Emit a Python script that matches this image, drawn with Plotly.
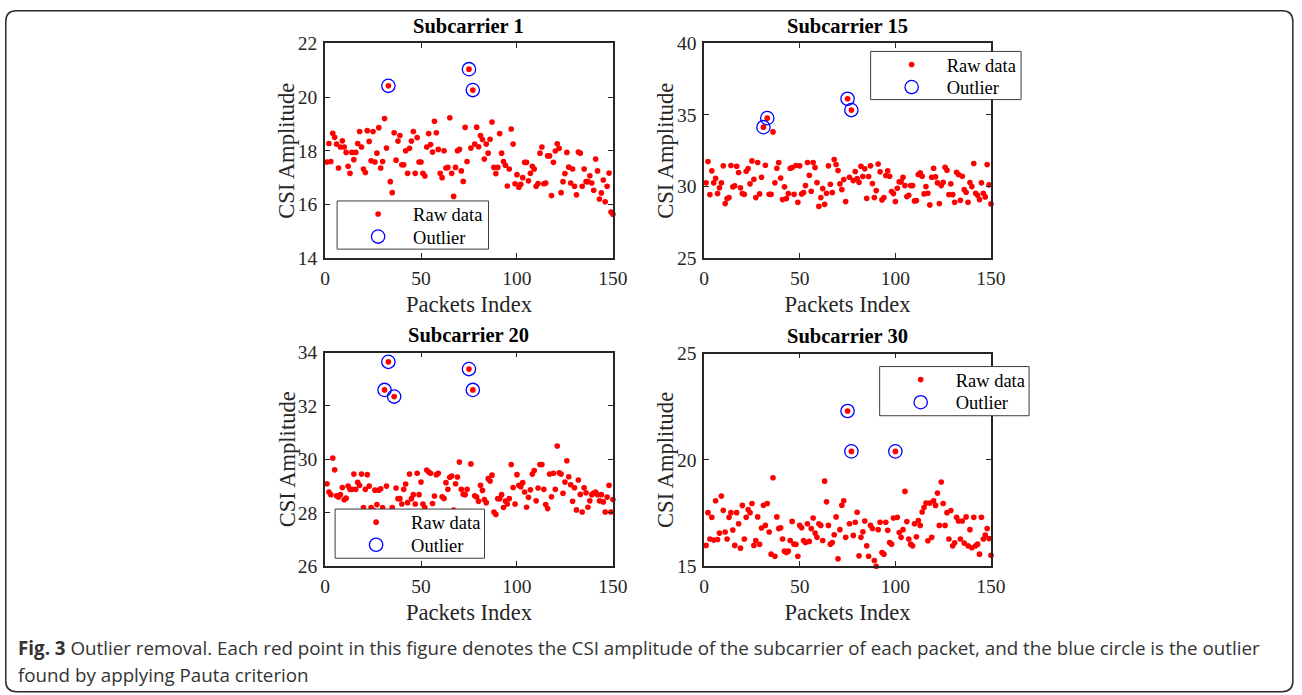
import plotly.graph_objects as go

# Packet index (1-based, 150 packets per subcarrier)
packets = list(range(1, 151))

# CSI amplitude per packet for each subcarrier
amp_sc1 = [
    17.58, 18.27, 17.60, 18.65, 18.50, 18.25, 17.36, 18.14, 18.37, 18.14,
    17.94, 17.42, 17.16, 17.94, 17.67, 17.94, 18.27, 18.72, 18.14, 17.32,
    17.19, 18.75, 18.35, 17.63, 18.72, 17.58, 17.91, 18.86, 17.36, 17.60,
    19.20, 18.10, 20.42, 16.85, 16.44, 18.67, 17.65, 18.36, 18.57, 17.48,
    17.48, 18.00, 17.16, 18.09, 18.36, 18.72, 17.16, 18.49, 17.58, 17.58,
    17.16, 17.06, 18.14, 18.64, 18.23, 17.95, 19.10, 18.67, 18.05, 17.16,
    17.00, 18.00, 17.36, 17.38, 19.23, 17.16, 16.30, 17.38, 18.00, 18.05,
    17.25, 16.86, 18.87, 17.60, 21.04, 18.10, 20.26, 18.25, 18.88, 18.15,
    18.57, 18.42, 17.69, 18.25, 17.91, 18.43, 19.07, 17.38, 17.15, 17.38,
    18.64, 17.91, 17.60, 17.46, 16.69, 17.32, 18.81, 18.25, 16.77, 17.11,
    16.64, 16.75, 17.00, 17.57, 17.57, 16.88, 17.16, 17.42, 17.32, 16.68,
    16.78, 17.91, 18.14, 16.77, 16.80, 17.81, 17.81, 16.33, 17.57, 17.99,
    18.26, 18.09, 16.44, 16.85, 17.15, 17.94, 17.39, 16.80, 17.32, 16.68,
    16.36, 17.95, 17.91, 16.68, 17.32, 16.85, 16.85, 17.07, 16.80, 16.53,
    17.69, 17.25, 16.20, 16.43, 16.91, 16.10, 16.68, 17.17, 15.72, 15.64,
]
amp_sc15 = [
    30.26, 31.75, 29.44, 31.10, 30.26, 30.58, 29.51, 29.91, 30.26, 31.45,
    28.81, 29.16, 29.23, 31.47, 29.98, 30.05, 31.42, 30.98, 29.91, 29.51,
    29.46, 31.07, 31.26, 30.19, 31.79, 30.51, 29.23, 31.68, 29.49, 30.65,
    34.15, 31.49, 34.78, 29.46, 29.46, 33.82, 30.26, 31.28, 31.68, 30.60,
    29.09, 29.98, 29.16, 29.51, 31.28, 31.33, 29.46, 31.47, 28.90, 31.45,
    29.49, 29.58, 30.07, 31.68, 30.79, 29.67, 31.68, 31.33, 30.28, 28.62,
    29.23, 29.86, 28.76, 29.53, 31.45, 30.16, 29.58, 31.89, 31.54, 31.12,
    30.19, 29.79, 30.49, 28.95, 36.13, 30.65, 35.34, 30.42, 31.05, 30.56,
    30.30, 31.42, 30.70, 31.24, 29.18, 30.70, 31.45, 30.21, 29.23, 29.72,
    31.58, 31.03, 29.07, 29.23, 30.77, 31.10, 30.72, 29.65, 29.51, 28.95,
    29.88, 30.33, 30.33, 30.65, 30.07, 29.30, 29.39, 30.07, 30.07, 29.00,
    29.02, 30.84, 30.96, 30.72, 29.49, 30.00, 29.53, 28.72, 30.65, 31.28,
    30.68, 30.26, 28.81, 30.07, 30.30, 31.35, 31.14, 29.44, 30.19, 29.44,
    28.90, 31.00, 30.84, 29.04, 30.72, 29.79, 29.60, 28.90, 30.28, 30.00,
    31.61, 29.53, 29.39, 29.09, 30.26, 29.53, 29.28, 31.54, 30.12, 28.79,
]
amp_sc20 = [
    29.09, 28.78, 28.68, 30.05, 29.61, 28.64, 28.59, 28.68, 28.95, 28.49,
    28.55, 29.00, 28.88, 28.88, 29.45, 28.88, 29.14, 29.03, 29.45, 28.20,
    28.88, 29.43, 29.00, 28.20, 28.10, 28.85, 28.31, 28.85, 28.90, 28.20,
    32.60, 29.00, 33.65, 28.00, 28.20, 32.35, 28.93, 28.53, 28.53, 28.33,
    28.88, 29.08, 28.38, 29.45, 28.53, 28.68, 28.33, 29.48, 28.68, 29.15,
    28.33, 28.20, 29.60, 29.53, 29.48, 28.35, 28.63, 29.43, 29.48, 27.90,
    28.60, 28.54, 29.13, 28.88, 29.33, 29.38, 28.10, 29.09, 29.34, 29.90,
    28.88, 28.70, 28.68, 28.88, 33.38, 29.83, 32.60, 28.64, 28.59, 28.43,
    29.03, 28.84, 28.50, 28.38, 29.28, 29.19, 29.41, 28.03, 27.94, 28.53,
    28.53, 28.68, 28.20, 28.44, 28.33, 28.53, 29.81, 28.95, 28.33, 29.43,
    29.03, 28.98, 29.13, 28.78, 28.21, 28.58, 28.86, 29.45, 29.58, 28.45,
    28.93, 29.81, 29.81, 28.88, 28.31, 28.16, 29.45, 28.60, 29.48, 28.88,
    30.50, 29.50, 29.45, 28.73, 29.15, 29.95, 29.35, 29.05, 28.43, 28.94,
    28.11, 29.23, 28.69, 28.03, 28.94, 28.75, 28.21, 28.45, 28.68, 28.74,
    28.78, 28.68, 28.45, 28.68, 28.41, 28.03, 28.59, 29.03, 28.03, 28.50,
]
amp_sc30 = [
    15.98, 17.52, 16.28, 17.30, 16.23, 18.08, 16.26, 16.56, 18.30, 17.63,
    16.61, 16.28, 17.30, 17.52, 16.70, 15.98, 17.52, 17.00, 15.85, 17.86,
    16.28, 17.30, 17.67, 17.52, 17.95, 15.98, 16.21, 17.32, 16.03, 16.80,
    17.87, 16.92, 17.95, 16.61, 15.57, 19.16, 15.47, 17.32, 16.77, 16.81,
    16.28, 15.71, 15.65, 15.71, 16.21, 17.11, 16.04, 16.03, 15.47, 16.92,
    16.81, 16.21, 16.12, 17.00, 16.17, 16.77, 17.27, 16.56, 16.36, 17.00,
    16.92, 16.21, 19.00, 18.03, 16.92, 16.04, 16.12, 16.48, 17.32, 15.35,
    16.72, 17.87, 18.08, 16.36, 22.30, 17.00, 20.40, 16.45, 17.07, 17.54,
    15.49, 16.36, 16.62, 17.13, 15.96, 15.47, 16.92, 16.77, 15.27, 15.00,
    16.72, 17.07, 15.65, 15.57, 17.07, 16.69, 16.12, 16.04, 17.27, 20.40,
    17.30, 16.59, 16.36, 16.72, 18.52, 17.10, 16.28, 16.04, 15.96, 17.00,
    16.39, 17.15, 16.92, 17.55, 17.76, 17.97, 16.20, 17.97, 16.36, 18.08,
    17.86, 18.44, 16.92, 18.96, 17.95, 16.92, 17.52, 16.28, 17.62, 15.96,
    16.10, 17.30, 17.13, 16.28, 17.13, 16.09, 17.32, 15.96, 16.72, 15.87,
    17.30, 15.96, 16.04, 15.57, 17.30, 16.28, 16.47, 16.77, 16.30, 15.52,
]

# Packets flagged by the Pauta (3-sigma) criterion
outliers_sc1 = [33, 75, 77]
outliers_sc15 = [31, 33, 75, 77]
outliers_sc20 = [31, 33, 36, 75, 77]
outliers_sc30 = [75, 77, 100]

titles = ["Subcarrier 1", "Subcarrier 15", "Subcarrier 20", "Subcarrier 30"]
y_ranges = [[14, 22], [25, 40], [26, 34], [15, 25]]
y_ticks = [[14, 16, 18, 20, 22], [25, 30, 35, 40], [26, 28, 30, 32, 34], [15, 20, 25]]
x_ticks = [0, 50, 100, 150]

# Target picture is 1302x695; the page carries an 8px body margin and the
# captured area (figure + margins) is fitted into that picture.
PIC_W, PIC_H, BODY_MARGIN = 1302, 695, 8
W, H = 1310, 703
SX = PIC_W / (W + 2 * BODY_MARGIN)
SY = PIC_H / (H + 2 * BODY_MARGIN)
Y_NUDGE = 3
FS = 1 / ((SX + SY) / 2)  # font / marker compensation for the fit
SERIF = "Liberation Serif"
AXIS_COLOR = "#262626"


def px_x(p):
    """Picture x pixel -> paper fraction."""
    return (p / SX - BODY_MARGIN) / W


def px_y(p):
    """Picture y pixel (from top) -> paper fraction."""
    return 1 - ((p - Y_NUDGE) / SY - BODY_MARGIN) / H


# Axes boxes in picture pixels: (left, right, top, bottom)
boxes = [
    (327, 614, 44, 258),
    (705, 991, 44, 258),
    (327, 614, 352, 565),
    (705, 991, 353, 565),
]
# Legend frames in picture pixels: (left, right, top, bottom)
legend_frames = [
    (339, 490, 201, 249),
    (871, 1021, 52, 100),
    (337, 486, 508, 557),
    (880, 1029, 366, 415),
]

series = [
    (amp_sc1, outliers_sc1),
    (amp_sc15, outliers_sc15),
    (amp_sc20, outliers_sc20),
    (amp_sc30, outliers_sc30),
]


def legend_name(i):
    return "legend" if i == 1 else f"legend{i}"


fig = go.Figure()
layout = dict(
    width=W, height=H,
    margin=dict(l=0, r=0, t=0, b=0),
    paper_bgcolor="white", plot_bgcolor="white",
    showlegend=True,
)
shapes = []
annotations = []
legend_font = dict(family=SERIF, size=18 * FS, color="black")
title_font = dict(family=SERIF, size=22 * FS, color=AXIS_COLOR)

for k, ((amp, out_idx), box, frame) in enumerate(zip(series, boxes, legend_frames)):
    n = k + 1
    xa = "x" if n == 1 else f"x{n}"
    ya = "y" if n == 1 else f"y{n}"
    leg_raw = legend_name(2 * k + 1)
    leg_out = legend_name(2 * k + 2)

    fig.add_trace(go.Scatter(
        x=packets, y=amp, mode="markers", name="Raw data",
        marker=dict(symbol="circle", size=5.5 * FS, color="#ff0000"),
        xaxis=xa, yaxis=ya, legend=leg_raw, cliponaxis=False,
    ))
    fig.add_trace(go.Scatter(
        x=out_idx, y=[amp[i - 1] for i in out_idx], mode="markers", name="Outlier",
        marker=dict(symbol="circle-open", size=13 * FS, color="#0000ff", line=dict(width=1.3)),
        xaxis=xa, yaxis=ya, legend=leg_out, cliponaxis=False,
    ))

    l, r, t, b = box
    axis_common = dict(
        showline=True, mirror="ticks", linecolor=AXIS_COLOR, linewidth=1.6,
        ticks="inside", ticklen=5, tickwidth=1.4, tickcolor=AXIS_COLOR,
        showgrid=False, zeroline=False,
        tickfont=dict(family=SERIF, size=19 * FS, color=AXIS_COLOR),
    )
    layout["xaxis" if n == 1 else f"xaxis{n}"] = dict(
        axis_common, domain=[px_x(l), px_x(r)], anchor=ya,
        range=[0, 150], tickvals=x_ticks, ticklabelstandoff=2,
        title=dict(text="Packets Index", font=title_font, standoff=8),
    )
    layout["yaxis" if n == 1 else f"yaxis{n}"] = dict(
        axis_common, domain=[px_y(b), px_y(t)], anchor=xa,
        range=y_ranges[k], tickvals=y_ticks[k], ticklabelstandoff=2,
    )

    # y-axis title
    annotations.append(dict(
        text="CSI Amplitude", xref="paper", yref="paper",
        x=px_x(l - 38), y=px_y((t + b) / 2), xanchor="center", yanchor="middle",
        textangle=-90, showarrow=False, font=title_font,
    ))
    # Panel title
    annotations.append(dict(
        text=f"<b>{titles[k]}</b>", xref="paper", yref="paper",
        x=px_x((l + r) / 2), y=px_y(t - 17), xanchor="center", yanchor="middle",
        showarrow=False, font=dict(family=SERIF, size=20 * FS, color="black"),
    ))

    # Legend frame, then one legend per row so each entry sits on its own line
    fl, fr, ft, fb = frame
    shapes.append(dict(
        type="rect", xref="paper", yref="paper", layer="above",
        x0=px_x(fl), x1=px_x(fr), y0=px_y(fb), y1=px_y(ft),
        fillcolor="white", line=dict(color="#3c3c3c", width=1),
    ))
    for leg, row_y in ((leg_raw, ft + 13.5), (leg_out, ft + 36)):
        layout[leg] = dict(
            x=px_x(fl + 6), y=px_y(row_y), xanchor="left", yanchor="middle",
            bgcolor="rgba(0,0,0,0)", borderwidth=0, itemwidth=60,
            font=legend_font,
        )

# Rounded frame around the whole figure (kept inside the drawable area)
X0 = max(px_x(7), 0.8 / W)
Y1 = min(px_y(5), 1 - 0.8 / H)
X1, Y0 = px_x(1292), px_y(690)
rad = 11
rx, ry = rad / W, rad / H
frame_path = (
    f"M {X0 + rx},{Y1} L {X1 - rx},{Y1} Q {X1},{Y1} {X1},{Y1 - ry} "
    f"L {X1},{Y0 + ry} Q {X1},{Y0} {X1 - rx},{Y0} "
    f"L {X0 + rx},{Y0} Q {X0},{Y0} {X0},{Y0 + ry} "
    f"L {X0},{Y1 - ry} Q {X0},{Y1} {X0 + rx},{Y1} Z"
)
shapes.append(dict(type="path", xref="paper", yref="paper", path=frame_path,
                   line=dict(color="#2b2b2b", width=1.5), layer="below"))

# Figure caption
caption_font = dict(family="Open Sans", size=18.3 * FS, color="#333333")
annotations.append(dict(
    text="<b>Fig. 3</b> Outlier removal. Each red point in this figure denotes the CSI amplitude "
         "of the subcarrier of each packet, and the blue circle is the outlier",
    xref="paper", yref="paper", x=px_x(19), y=px_y(646), xanchor="left", yanchor="middle",
    showarrow=False, font=caption_font,
))
annotations.append(dict(
    text="found by applying Pauta criterion",
    xref="paper", yref="paper", x=px_x(19), y=px_y(673), xanchor="left", yanchor="middle",
    showarrow=False, font=caption_font,
))

layout["shapes"] = shapes
layout["annotations"] = annotations
fig.update_layout(**layout)

fig.write_html("out.html")
